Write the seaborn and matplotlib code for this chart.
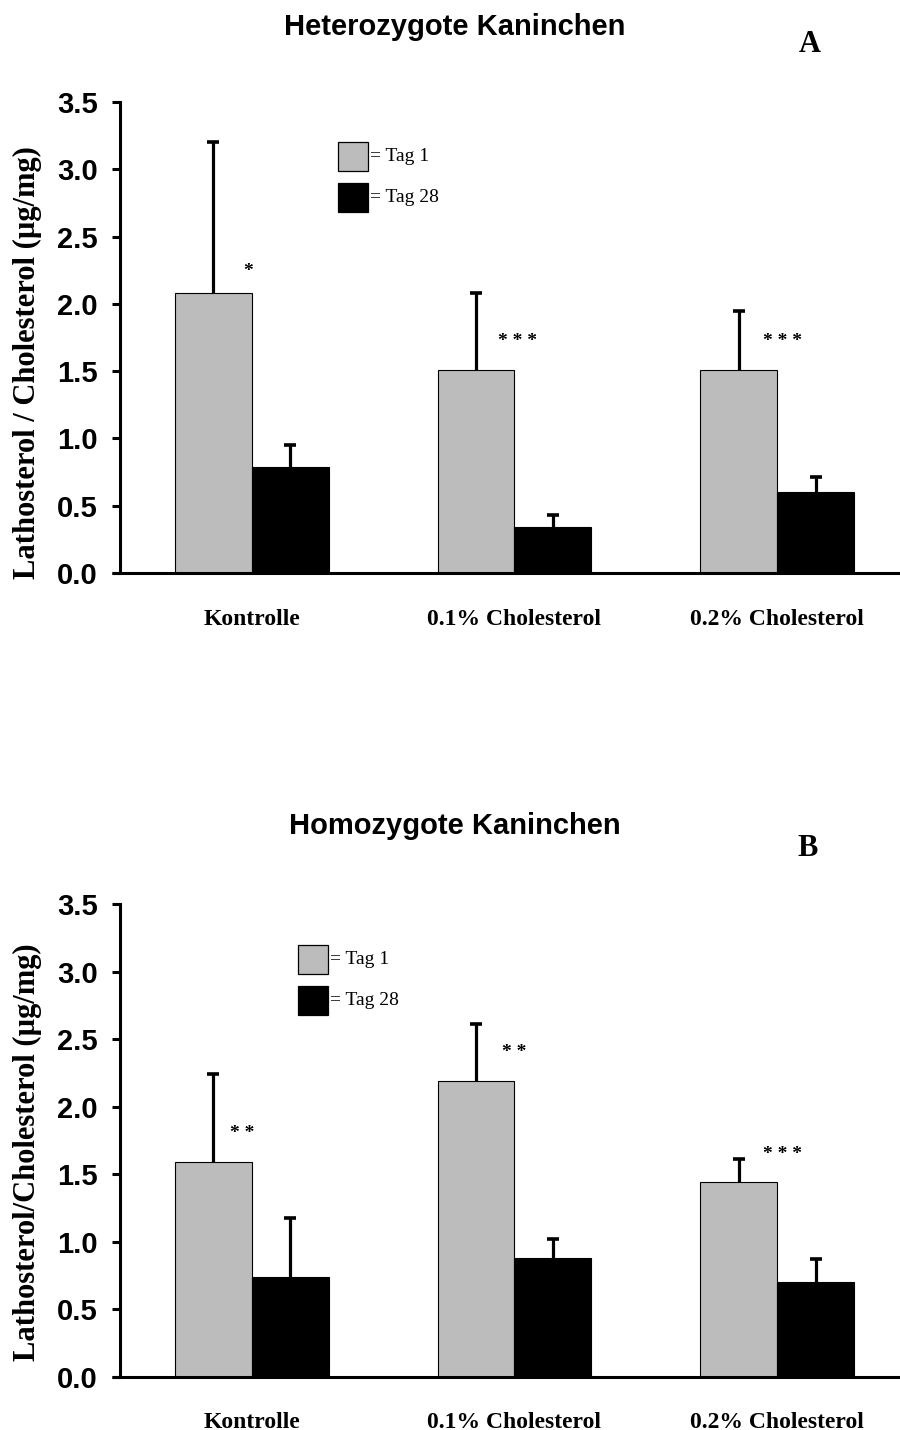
import numpy as np
import pandas as pd
import matplotlib
matplotlib.use("Agg")
import matplotlib.pyplot as plt
from matplotlib.patches import Rectangle
import seaborn as sns

# ---- data -------------------------------------------------------------
groups = ["Kontrolle", "0.1% Cholesterol", "0.2% Cholesterol"]
tags = ["Tag 1", "Tag 28"]

# Heterozygote Kaninchen (panel A)
het_tag1 = [2.08, 1.51, 1.51]
het_tag1_sd = [1.12, 0.57, 0.44]
het_tag28 = [0.79, 0.34, 0.60]
het_tag28_sd = [0.16, 0.09, 0.11]
het_stars = ["*", "* * *", "* * *"]
het_star_y = [2.27, 1.75, 1.75]

# Homozygote Kaninchen (panel B)
hom_tag1 = [1.59, 2.19, 1.44]
hom_tag1_sd = [0.65, 0.42, 0.17]
hom_tag28 = [0.74, 0.88, 0.70]
hom_tag28_sd = [0.44, 0.14, 0.17]
hom_stars = ["* *", "* *", "* * *"]
hom_star_y = [1.83, 2.43, 1.68]

yticks = [0.0, 0.5, 1.0, 1.5, 2.0, 2.5, 3.0, 3.5]

# ---- style ------------------------------------------------------------
sns.set_theme(style="white")
plt.rcParams["font.family"] = ["Liberation Sans", "DejaVu Sans"]
plt.rcParams["text.color"] = "black"

GRAY = "#bcbcbc"
BLACK = "#000000"
SANS = "Liberation Sans"
SERIF = "Liberation Serif"

fig = plt.figure(figsize=(9.0, 14.3), dpi=100)


def panel(ax, tag1, sd1, tag28, sd28, stars, star_y, star_x, ylabel,
          label_y, legend_x, legend_y1, legend_y28, xlabel_pad):
    df = pd.DataFrame({
        "Gruppe": groups * 2,
        "Tag": [tags[0]] * 3 + [tags[1]] * 3,
        "Wert": list(tag1) + list(tag28),
    })
    sns.barplot(data=df, x="Gruppe", y="Wert", hue="Tag", order=groups,
                hue_order=tags, palette=[GRAY, BLACK], width=0.585,
                edgecolor="black", linewidth=0.8, errorbar=None,
                legend=False, ax=ax)

    # upward-only error bars from each bar's top
    for cont, sd in zip(ax.containers, [sd1, sd28]):
        xs = [b.get_x() + b.get_width() / 2 for b in cont]
        hs = [b.get_height() for b in cont]
        eb = ax.errorbar(xs, hs, yerr=[np.zeros(len(sd)), sd], fmt="none",
                         ecolor="black", elinewidth=2.3, capsize=4.3,
                         capthick=2.6, zorder=3)
        eb[1][0].set_visible(False)  # no cap at the bar top

    # significance marks (asterisk glyph sits above the text centre,
    # so nudge the anchor down a little)
    for x, s, y in zip(star_x, stars, star_y):
        ax.text(x, y - 0.03, s, ha="center", va="center", fontfamily=SERIF,
                fontweight="bold", fontsize=14, color="black")

    ax.set_xlim(-0.502, 2.468)
    ax.set_ylim(0, 3.5)
    ax.set_yticks(yticks)
    ax.set_yticklabels([f"{v:.1f}" for v in yticks],
                       fontfamily=SANS, fontweight="bold", fontsize=21)
    ax.set_xticks(range(len(groups)))
    ax.set_xticklabels(groups, fontfamily=SERIF, fontweight="bold",
                       fontsize=17)
    ax.tick_params(axis="y", direction="out", length=6, width=2.2,
                   pad=10, left=True, colors="black")
    ax.tick_params(axis="x", length=0, pad=xlabel_pad, colors="black")
    ax.set_xlabel("")
    ax.set_ylabel(ylabel, fontfamily=SERIF, fontweight="bold",
                  fontsize=22, color="black")
    ax.yaxis.set_label_coords(-0.118, label_y)
    ax.yaxis.label.set_verticalalignment("center")

    sns.despine(ax=ax, top=True, right=True)
    for side in ("left", "bottom"):
        ax.spines[side].set_linewidth(2.2)
        ax.spines[side].set_color("black")
    ax.spines["bottom"].set_bounds(-0.532, 2.468)
    ax.spines["bottom"].set_capstyle("butt")

    # legend keys
    w = 0.0385
    for y0, col, lab in [(legend_y1, GRAY, "= Tag 1"),
                         (legend_y28, BLACK, "= Tag 28")]:
        ax.add_patch(Rectangle((legend_x, y0), w, 0.062,
                               transform=ax.transAxes, facecolor=col,
                               edgecolor="black", linewidth=0.9,
                               clip_on=False))
        ax.text(legend_x + w + 0.003, y0 + 0.031, lab,
                transform=ax.transAxes, ha="left", va="center",
                fontfamily=SERIF, fontsize=14, color="black")


axA = fig.add_axes([120 / 900, 1 - 573 / 1430, 780 / 900, 471 / 1430])
panel(axA, het_tag1, het_tag1_sd, het_tag28, het_tag28_sd, het_stars,
      het_star_y, [-0.015, 1.01, 2.02],
      "Lathosterol / Cholesterol (µg/mg)", 0.446,
      0.2795, 0.8535, 0.766, 26)

axB = fig.add_axes([120 / 900, 1 - 1377 / 1430, 780 / 900, 473 / 1430])
panel(axB, hom_tag1, hom_tag1_sd, hom_tag28, hom_tag28_sd, hom_stars,
      hom_star_y, [-0.038, 1.0, 2.02],
      "Lathosterol/Cholesterol (µg/mg)", 0.476,
      0.228, 0.852, 0.765, 25)

fig.text(455 / 900, 1 - 27 / 1430, "Heterozygote Kaninchen", ha="center",
         va="center", fontfamily=SANS, fontweight="bold", fontsize=21,
         color="black")
fig.text(810 / 900, 1 - 45 / 1430, "A", ha="center", va="center",
         fontfamily=SERIF, fontweight="bold", fontsize=22, color="black")
fig.text(455 / 900, 1 - 826 / 1430, "Homozygote Kaninchen", ha="center",
         va="center", fontfamily=SANS, fontweight="bold", fontsize=21,
         color="black")
fig.text(808 / 900, 1 - 848 / 1430, "B", ha="center", va="center",
         fontfamily=SERIF, fontweight="bold", fontsize=22, color="black")

fig.savefig("out.png", dpi=100, facecolor="white")
